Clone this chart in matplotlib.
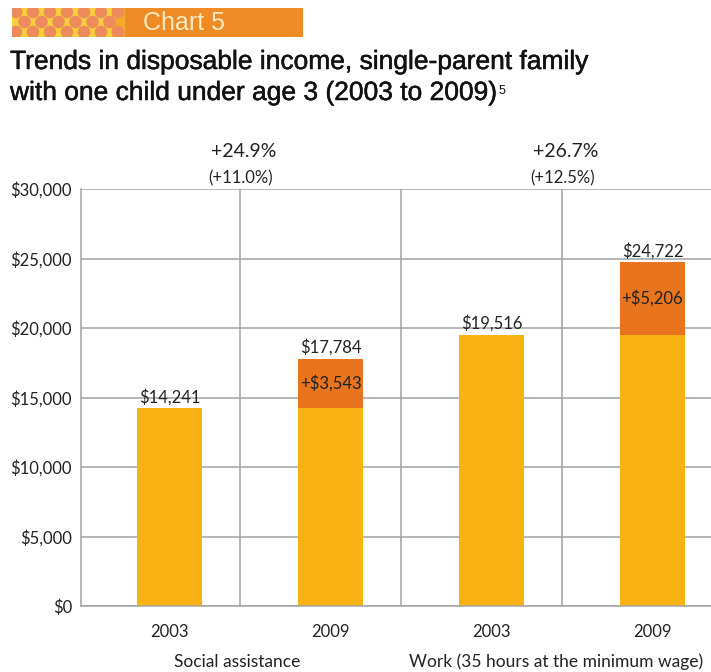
import matplotlib
matplotlib.use("Agg")
import matplotlib.pyplot as plt
import matplotlib.patheffects as pe
from matplotlib.patches import Rectangle, Circle

# ---------------------------------------------------------------------------
# Data
# ---------------------------------------------------------------------------
years = ["2003", "2009", "2003", "2009"]
groups = ["Social assistance", "Work (35 hours at the minimum wage)"]
base_income = [14241, 14241, 19516, 19516]      # 2003 level (yellow)
increase = [0, 3543, 0, 5206]                   # added by 2009 (orange)
total_labels = ["$14,241", "$17,784", "$19,516", "$24,722"]
increase_labels = ["", "+$3,543", "", "+$5,206"]
pct_nominal = ["+24.9%", "+26.7%"]
pct_real = ["(+11.0%)", "(+12.5%)"]
yticks = [0, 5000, 10000, 15000, 20000, 25000, 30000]
ytick_labels = ["$0", "$5,000", "$10,000", "$15,000", "$20,000", "$25,000", "$30,000"]

YELLOW = "#F8B214"
ORANGE = "#E8751E"
HEADER = "#EF8B24"
GRID = "#A3A3A3"
TEXT = "#222222"

W, H = 711, 672
fig = plt.figure(figsize=(W / 100, H / 100), dpi=100)

# ---------------------------------------------------------------------------
# Header band "Chart 5" with polka dots on the left
# ---------------------------------------------------------------------------
hx0, hy0, hw, hh = 12, 8, 291, 29
hax = fig.add_axes([hx0 / W, 1 - (hy0 + hh) / H, hw / W, hh / H])
hax.set_xlim(0, hw)
hax.set_ylim(0, hh)
hax.axis("off")
hax.add_patch(Rectangle((0, 0), hw, hh, color=HEADER, zorder=0))
hax.add_patch(Rectangle((0, 0), 100, hh, color="#F6CF3A", zorder=1))
hax.add_patch(Rectangle((100, 0), 12, hh, color="#F3A82E", zorder=1))
for row, cy in enumerate([25, 15, 5]):
    off = 0 if row % 2 == 0 else 8.5
    cx = 4 + off
    while cx < 112:
        hax.add_patch(Circle((cx, cy), 5.6, color="#EE8B5C", zorder=2, clip_on=True))
        cx += 17
hax.text(131, hh / 2 - 0.5, "Chart 5", color="#FDE9C4", fontsize=18,
         family="Liberation Sans", va="center", ha="left", zorder=3)

# ---------------------------------------------------------------------------
# Title (two lines, small raised footnote mark)
# ---------------------------------------------------------------------------
title_fx = [pe.withStroke(linewidth=0.35, foreground="#111111")]
fig.text(10 / W, 1 - 62 / H, "Trends in disposable income, single-parent family",
         fontsize=19, family="Liberation Sans", color="#111111",
         va="center", ha="left", path_effects=title_fx)
line2 = fig.text(10 / W, 1 - 93 / H, "with one child under age 3 (2003 to 2009)",
                 fontsize=19, family="Liberation Sans", color="#111111",
                 va="center", ha="left", path_effects=title_fx)
bb = line2.get_window_extent(renderer=fig.canvas.get_renderer())
fig.text((bb.x1 + 0.5) / W, (bb.y1 - 4) / H, "5", fontsize=9,
         family="Liberation Sans", color="#111111", va="top", ha="left")

# ---------------------------------------------------------------------------
# Main chart
# ---------------------------------------------------------------------------
ax = fig.add_axes([81 / W, 66 / H, 630 / W, 417 / H])
x = list(range(len(years)))
bw = 0.40
ax.bar(x, base_income, bw, color=YELLOW, zorder=2)
ax.bar(x, increase, bw, bottom=base_income, color=ORANGE, zorder=2)

ax.set_xlim(-0.55, 3.364)
ax.set_ylim(0, 30000)
ax.set_yticks(yticks)
ax.set_yticklabels(ytick_labels, family="Lato", fontsize=12, color=TEXT)
ax.set_xticks(x)
ax.set_xticklabels(years, family="Lato", fontsize=12, color=TEXT)
ax.tick_params(axis="both", length=0)
ax.tick_params(axis="y", pad=6.5)
ax.tick_params(axis="x", pad=13)
ax.grid(True, axis="y", color=GRID, lw=1.1, zorder=3)
for sx in [0.44, 1.44, 2.44]:
    ax.axvline(sx, color=GRID, lw=1.1, zorder=3)
for side in ["top", "right"]:
    ax.spines[side].set_visible(False)
ax.spines["left"].set_color(GRID)
ax.spines["left"].set_linewidth(1.1)
ax.spines["bottom"].set_color(GRID)
ax.spines["bottom"].set_linewidth(1.1)

for i in x:
    top = base_income[i] + increase[i]
    ax.annotate(total_labels[i], (i, top), xytext=(0, 2), textcoords="offset points",
                ha="center", va="bottom", family="Lato", fontsize=12, color=TEXT, zorder=4)
    if increase[i]:
        ax.text(i, base_income[i] + increase[i] / 2, increase_labels[i], ha="center",
                va="center", family="Lato", fontsize=12, color=TEXT, zorder=4)

for gx, nom, real in zip([0.44, 2.44], pct_nominal, pct_real):
    ax.text(gx + 0.02, 1.089, nom, transform=ax.get_xaxis_transform(), ha="center",
            va="center", family="Lato", fontsize=14, color=TEXT)
    ax.text(gx, 1.026, real, transform=ax.get_xaxis_transform(), ha="center",
            va="center", family="Lato", fontsize=12, color=TEXT)

for gx, g in zip([0.42, 2.40], groups):
    ax.text(gx, -0.134, g, transform=ax.get_xaxis_transform(), ha="center",
            va="center", family="Lato", fontsize=12.5, color=TEXT)

fig.savefig("out.png", dpi=100)
